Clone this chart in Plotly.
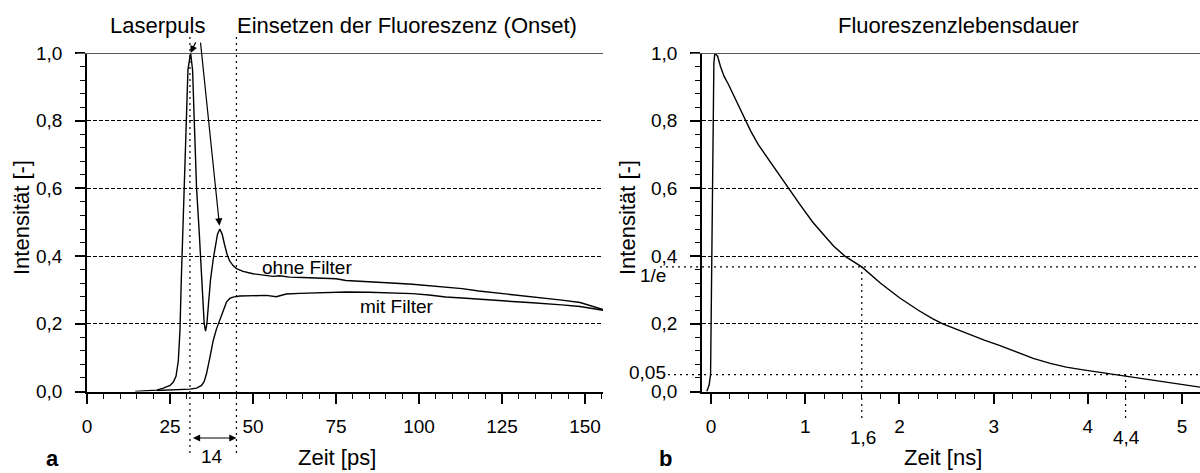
import plotly.graph_objects as go

# ---------------- data ----------------
# panel a: time [ps], intensity [-]
t_ohne = [14.5, 18, 21, 23, 25, 26, 26.8, 27.5, 28, 28.4, 28.8, 29.3, 29.8, 30.4, 31.2, 31.8, 32.3, 33.0,
          33.8, 34.3, 34.8, 35.3, 35.7, 36.1, 36.6, 37.2, 38.0, 38.6, 39.3, 40.0, 40.7, 41.4, 42.2, 43.0,
          44.0, 45.0, 47, 50, 53, 56, 58, 61, 65, 70, 75, 78, 83, 88, 93, 98, 103, 108, 113, 118, 123,
          128, 133, 138, 143, 148.5, 151, 153, 155.4]
y_ohne = [0.0, 0.002, 0.004, 0.010, 0.018, 0.028, 0.045, 0.09, 0.18, 0.33, 0.47, 0.60, 0.80, 0.95, 1.0, 0.95,
          0.80, 0.60, 0.47, 0.38, 0.28, 0.20, 0.178, 0.20, 0.26, 0.33, 0.39, 0.43, 0.465, 0.48, 0.465, 0.435,
          0.405, 0.385, 0.372, 0.363, 0.355, 0.348, 0.343, 0.340, 0.342, 0.338, 0.337, 0.335, 0.333, 0.328,
          0.326, 0.322, 0.320, 0.317, 0.313, 0.309, 0.304, 0.297, 0.292, 0.287, 0.281, 0.275, 0.270, 0.263,
          0.256, 0.249, 0.242]

t_mit = [21, 25, 28, 31, 33, 34.5, 35.3, 36, 37, 38, 39, 40, 41, 42, 43, 44, 46, 50, 54, 57, 60, 64, 70, 78,
         85, 92, 98, 103, 108, 113, 118, 123, 128, 133, 138, 143, 148.5, 152, 155.4]
y_mit = [0.003, 0.004, 0.005, 0.007, 0.010, 0.018, 0.030, 0.053, 0.10, 0.15, 0.185, 0.21, 0.24, 0.264, 0.275,
         0.279, 0.282, 0.284, 0.284, 0.280, 0.288, 0.290, 0.292, 0.294, 0.293, 0.291, 0.289, 0.285, 0.279,
         0.276, 0.272, 0.269, 0.266, 0.263, 0.260, 0.256, 0.251, 0.246, 0.240]

# panel b: time [ns], intensity [-]
t_b = [-0.045, -0.02, -0.005, 0.005, 0.012, 0.02, 0.03, 0.04, 0.07, 0.10, 0.14, 0.18, 0.25, 0.30, 0.37, 0.42,
       0.50, 0.60, 0.70, 0.82, 0.95, 1.08, 1.20, 1.30, 1.42, 1.60, 1.80, 2.00, 2.20, 2.35, 2.46, 2.71, 2.90,
       3.06, 3.25, 3.42, 3.60, 3.77, 3.95, 4.12, 4.30, 4.40, 4.60, 4.83, 5.00, 5.19]
y_b = [0.0, 0.02, 0.05, 0.30, 0.60, 0.85, 0.97, 1.0, 0.99, 0.96, 0.93, 0.91, 0.87, 0.84, 0.80, 0.77, 0.73,
       0.69, 0.65, 0.60, 0.55, 0.50, 0.46, 0.43, 0.40, 0.368, 0.32, 0.277, 0.24, 0.215, 0.20, 0.172, 0.152,
       0.136, 0.115, 0.098, 0.083, 0.072, 0.064, 0.057, 0.049, 0.046, 0.037, 0.028, 0.020, 0.013]

onset_marks = [31, 45]          # ps
tau_marks = [1.6, 4.4]          # ns
level_marks = [0.368, 0.05]     # 1/e and 0.05

W, H = 1200, 473
FONT = "Liberation Sans, Arial, sans-serif"
PX_PER_PS = (603 - 87) / 155.4


def px(xp):
    return xp / W


def py(yp):
    return 1 - yp / H


fig = go.Figure()
line = dict(color="black", width=1.4)
fig.add_trace(go.Scatter(x=t_ohne, y=y_ohne, mode="lines", line=line, xaxis="x", yaxis="y"))
fig.add_trace(go.Scatter(x=t_mit, y=y_mit, mode="lines", line=line, xaxis="x", yaxis="y"))
fig.add_trace(go.Scatter(x=t_b, y=y_b, mode="lines", line=line, xaxis="x2", yaxis="y2"))

ydom = [py(391.5), py(53)]

common_x = dict(showline=True, linecolor="black", linewidth=1.5, ticks="outside", ticklen=11,
                tickwidth=1.5, tickcolor="black", showgrid=False, zeroline=False, automargin=False,
                ticklabelstandoff=6,
                tickfont=dict(size=19, color="black", family=FONT))
common_y = dict(showline=True, linecolor="black", linewidth=1.5, ticks="outside", ticklen=10,
                tickwidth=1.5, tickcolor="black", showgrid=True, gridcolor="black", gridwidth=1,
                griddash="4px,2px", zeroline=False, range=[0, 1.0], dtick=0.2, tickformat=".1f",
                automargin=False, ticklabelstandoff=9,
                tickfont=dict(size=19, color="black", family=FONT),
                minor=dict(dtick=0.04, ticklen=5, ticks="outside", tickcolor="black", tickwidth=1,
                           showgrid=False))

fig.update_layout(
    width=W, height=H, margin=dict(l=0, r=0, t=0, b=0),
    paper_bgcolor="white", plot_bgcolor="white", showlegend=False,
    separators=",.",
    xaxis=dict(domain=[px(87), px(603)], range=[0, 155.4], dtick=25, anchor="y",
               minor=dict(dtick=5, ticklen=6, ticks="outside", tickcolor="black", tickwidth=1,
                          showgrid=False), **common_x),
    yaxis=dict(domain=ydom, anchor="x", **common_y),
    xaxis2=dict(domain=[px(702), 1.0], range=[-0.096, 5.19], dtick=1, anchor="y2",
                minor=dict(dtick=0.2, ticklen=6, ticks="outside", tickcolor="black", tickwidth=1,
                           showgrid=False), **common_x),
    yaxis2=dict(domain=ydom, anchor="x2", **common_y),
)

shapes = []
# top solid gray lines at 1.0
shapes.append(dict(type="line", xref="paper", yref="y", x0=px(77), x1=px(603), y0=1.0, y1=1.0,
                   line=dict(color="#5a5a5a", width=2.2), layer="above"))
shapes.append(dict(type="line", xref="paper", yref="y2", x0=px(691), x1=1.0, y0=1.0, y1=1.0,
                   line=dict(color="#5a5a5a", width=2.2), layer="above"))
dot = dict(color="black", width=1.2, dash="2px,4px")
for xv in onset_marks:
    shapes.append(dict(type="line", xref="x", yref="paper", x0=xv, x1=xv, y0=py(453), y1=py(33), line=dot))
# right panel dotted level lines
shapes.append(dict(type="line", xref="paper", yref="y2", x0=px(660), x1=1.0, y0=level_marks[0],
                   y1=level_marks[0], line=dot))
shapes.append(dict(type="line", xref="paper", yref="y2", x0=px(668), x1=1.0, y0=level_marks[1],
                   y1=level_marks[1], line=dot))
shapes.append(dict(type="line", xref="x2", yref="paper", x0=tau_marks[0], x1=tau_marks[0],
                   y0=py(418), y1=py(391.5 - level_marks[0] * 338.5), line=dot))
shapes.append(dict(type="line", xref="x2", yref="paper", x0=tau_marks[1], x1=tau_marks[1],
                   y0=py(418), y1=py(391.5 - level_marks[1] * 338.5), line=dot))
fig.update_layout(shapes=shapes)

ann = []


def txt(x, y, s, size=19, **kw):
    d = dict(x=px(x), y=py(y), xref="paper", yref="paper", text=s, showarrow=False,
             font=dict(size=size, color="black", family=FONT), xanchor="center", yanchor="middle")
    d.update(kw)
    ann.append(d)


txt(158, 25, "Laserpuls", 22)
txt(407, 25, "Einsetzen der Fluoreszenz (Onset)", 22)
txt(958, 25, "Fluoreszenzlebensdauer", 22)
txt(307, 267, "ohne Filter", 19)
txt(397, 306, "mit Filter", 19)
txt(212, 456, "14", 19)
txt(52, 458, "<b>a</b>", 22)
txt(665, 458, "<b>b</b>", 22)
txt(337, 457, "Zeit [ps]", 22)
txt(943, 457, "Zeit [ns]", 22)
txt(21, 218, "Intensität [-]", 22, textangle=-90)
txt(627, 218, "Intensität [-]", 22, textangle=-90)
txt(863, 437, "1,6", 19)
txt(1126, 437, "4,4", 19)
txt(668, 275, "1/e", 19, xanchor="right")
txt(668, 372, "0,05", 19, xanchor="right")

# arrows from "Laserpuls"
ann.append(dict(x=31.2, y=1.0, xref="x", yref="y", ax=8, ay=-17,
                showarrow=True, arrowhead=2, arrowsize=1.2, arrowwidth=1.2, arrowcolor="black", text=" "))
ann.append(dict(x=39.9, y=0.49, xref="x", yref="y", ax=-20, ay=-193,
                showarrow=True, arrowhead=2, arrowsize=1.2, arrowwidth=1.2, arrowcolor="black", text=" "))
# double arrow for 14 ps
ann.append(dict(x=onset_marks[1], y=py(438), xref="x", yref="paper",
                ax=-(onset_marks[1] - onset_marks[0]) * PX_PER_PS, ay=0,
                showarrow=True, arrowhead=2, startarrowhead=2,
                arrowside="end+start", arrowsize=1.2, arrowwidth=1.2, arrowcolor="black", text=" "))
fig.update_layout(annotations=ann)

fig.write_html("out.html")
